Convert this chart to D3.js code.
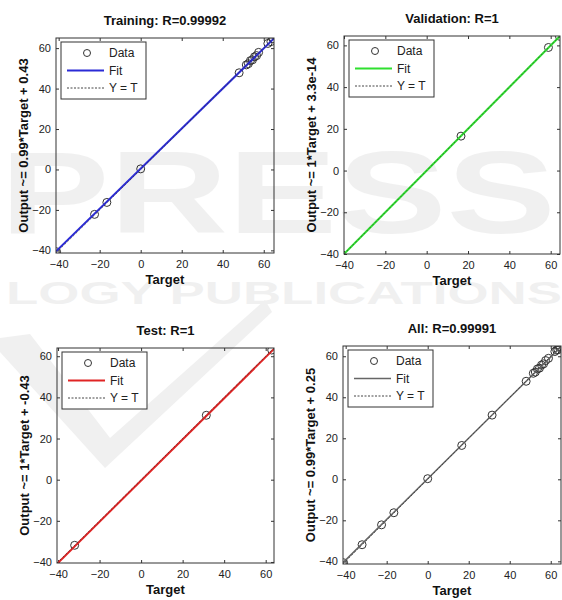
<!DOCTYPE html>
<html>
<head>
<meta charset="utf-8">
<script src="https://cdn.jsdelivr.net/npm/d3@7"></script>
<style>
  body { margin: 0; background: #fff; }
  svg { display: block; font-family: "Liberation Sans", Arial, sans-serif; }
</style>
</head>
<body>
<script>
// ---- data ----
var trainTargets = [-41, -22.5, -16.5, 0, 48, 51.5, 52.5, 53.5, 54.5, 55.5, 56.5, 57.5, 62, 63.5, 64.5];
var trainOutputs = [-40.7, -22.2, -16.3, 0.3, 47.8, 51.7, 52.3, 53.8, 54.2, 55.7, 56.3, 57.9, 62.3, 63.2, 64.6];
var valTargets = [16.6, 58.9, 64.2];
var valOutputs = [16.5, 59, 64.4];
var testTargets = [-32, 31.4, 62.9];
var testOutputs = [-31.9, 31.3, 63];

var titles = ['Training: R=0.99992', 'Validation: R=1', 'Test: R=1', 'All: R=0.99991'];
var yLabels = ['Output ~= 0.99*Target + 0.43', 'Output ~= 1*Target + 3.3e-14',
               'Output ~= 1*Target + -0.43', 'Output ~= 0.99*Target + 0.25'];
var fitSlopes = [0.99, 1, 1, 0.99];
var fitIntercepts = [0.43, 3.3e-14, -0.43, 0.25];
var fitColors = ['#2b2bd6', '#2fe02f', '#e02424', '#666666'];
var axisMin = [-41.3, -40, -40.5, -41.3];
var axisMax = [65, 64.5, 64, 65];
var tickValues = [-40, -20, 0, 20, 40, 60];
var legendLabels = ['Data', 'Fit', 'Y = T'];

var sets = [
  {t: trainTargets, y: trainOutputs},
  {t: valTargets, y: valOutputs},
  {t: testTargets, y: testOutputs},
  {t: trainTargets.concat(valTargets, testTargets), y: trainOutputs.concat(valOutputs, testOutputs)}
];

// panel frames: left, right, top, bottom
var frames = [
  [56, 274, 38, 253],
  [344, 560, 36, 254],
  [57, 274, 348, 563],
  [343, 561, 346, 564]
];

var W = 562, H = 600;
var svg = d3.select('body').append('svg').attr('width', W).attr('height', H);

// faint publisher watermark behind everything
var wm = svg.append('g').attr('fill', '#000').attr('opacity', 0.055);
wm.append('text').attr('x', 0).attr('y', 233)
  .attr('textLength', 556).attr('lengthAdjust', 'spacingAndGlyphs')
  .style('font-size', '116px').style('font-weight', 'bold').text('PRESS');
wm.append('text').attr('x', 6).attr('y', 304)
  .attr('textLength', 556).attr('lengthAdjust', 'spacingAndGlyphs')
  .style('font-size', '31px').style('font-weight', 'bold').text('LOGY PUBLICATIONS');
wm.append('path')
  .attr('d', 'M0,338 L30,334 L110,438 L265,300 L272,312 L105,468 L0,352 Z');

function drawPanel(i) {
  var f = frames[i];
  var x = d3.scaleLinear().domain([axisMin[i], axisMax[i]]).range([f[0], f[1]]);
  var y = d3.scaleLinear().domain([axisMin[i], axisMax[i]]).range([f[3], f[2]]);
  var g = svg.append('g');

  // axes
  var xAx = g.append('g').attr('transform', 'translate(0,' + f[3] + ')')
    .call(d3.axisBottom(x).tickValues(tickValues).tickSizeInner(-3).tickSizeOuter(0).tickPadding(7));
  var xTop = g.append('g').attr('transform', 'translate(0,' + f[2] + ')')
    .call(d3.axisTop(x).tickValues(tickValues).tickSizeInner(-3).tickSizeOuter(0).tickFormat(''));
  var yAx = g.append('g').attr('transform', 'translate(' + f[0] + ',0)')
    .call(d3.axisLeft(y).tickValues(tickValues).tickSizeInner(-3).tickSizeOuter(0).tickPadding(5));
  var yRight = g.append('g').attr('transform', 'translate(' + f[1] + ',0)')
    .call(d3.axisRight(y).tickValues(tickValues).tickSizeInner(-3).tickSizeOuter(0).tickFormat(''));
  [xAx, xTop, yAx, yRight].forEach(function(a) {
    a.select('.domain').remove();
    a.selectAll('line').attr('stroke', '#333');
    a.selectAll('text').attr('fill', '#222').style('font-size', '11px')
      .style('font-family', '"Liberation Sans", Arial, sans-serif');
  });

  var clipId = 'clip' + i;
  g.append('clipPath').attr('id', clipId).append('rect')
    .attr('x', f[0]).attr('y', f[2]).attr('width', f[1] - f[0]).attr('height', f[3] - f[2]);
  var plot = g.append('g').attr('clip-path', 'url(#' + clipId + ')');

  var d = sets[i];
  var pts = d.t.map(function(v, k) { return [v, d.y[k]]; });
  plot.selectAll('circle').data(pts).enter().append('circle')
    .attr('cx', function(p) { return x(p[0]); })
    .attr('cy', function(p) { return y(p[1]); })
    .attr('r', 4).attr('fill', 'none').attr('stroke', '#333').attr('stroke-width', 1);

  var dom = x.domain();
  plot.append('line')
    .attr('x1', x(dom[0])).attr('y1', y(fitSlopes[i] * dom[0] + fitIntercepts[i]))
    .attr('x2', x(dom[1])).attr('y2', y(fitSlopes[i] * dom[1] + fitIntercepts[i]))
    .attr('stroke', fitColors[i]).attr('stroke-width', i === 3 ? 1.5 : 2);
  plot.append('line')
    .attr('x1', x(dom[0])).attr('y1', y(dom[0]))
    .attr('x2', x(dom[1])).attr('y2', y(dom[1]))
    .attr('stroke', '#333').attr('stroke-width', 1).attr('stroke-dasharray', '2,2').attr('opacity', 0.6);

  // frame
  g.append('rect').attr('x', f[0]).attr('y', f[2])
    .attr('width', f[1] - f[0]).attr('height', f[3] - f[2])
    .attr('fill', 'none').attr('stroke', '#333').attr('stroke-width', 1);

  // titles
  var cx = (f[0] + f[1]) / 2, cy = (f[2] + f[3]) / 2;
  g.append('text').attr('x', cx).attr('y', f[2] - 13).attr('text-anchor', 'middle')
    .style('font-size', '13px').style('font-weight', 'bold').attr('fill', '#111').text(titles[i]);
  g.append('text').attr('x', cx).attr('y', f[3] + 31).attr('text-anchor', 'middle')
    .style('font-size', '13px').style('font-weight', 'bold').attr('fill', '#111').text('Target');
  g.append('text').attr('transform', 'translate(' + (f[0] - 33) + ',' + cy + ') rotate(-90)')
    .attr('text-anchor', 'middle').attr('dy', '0.35em')
    .style('font-size', '13px').style('font-weight', 'bold').attr('fill', '#111').text(yLabels[i]);

  // legend
  var lg = g.append('g').attr('transform', 'translate(' + (f[0] + 5) + ',' + (f[2] + 4) + ')');
  lg.append('rect').attr('width', 85).attr('height', 57)
    .attr('fill', '#fff').attr('stroke', '#333').attr('stroke-width', 1);
  var rows = lg.selectAll('g.row').data(legendLabels).enter().append('g')
    .attr('transform', function(_, k) { return 'translate(0,' + (11 + k * 17.5) + ')'; });
  rows.append('text').attr('x', 48).attr('y', 4).style('font-size', '12px').attr('fill', '#222')
    .text(function(s) { return s; });
  lg.append('circle').attr('cx', 26).attr('cy', 11).attr('r', 3.5)
    .attr('fill', 'none').attr('stroke', '#333');
  lg.append('line').attr('x1', 6).attr('x2', 43).attr('y1', 28.5).attr('y2', 28.5)
    .attr('stroke', fitColors[i]).attr('stroke-width', i === 3 ? 1.5 : 2);
  lg.append('line').attr('x1', 6).attr('x2', 43).attr('y1', 46).attr('y2', 46)
    .attr('stroke', '#444').attr('stroke-width', 1).attr('stroke-dasharray', '2,1.5');
}

for (var i = 0; i < 4; i++) drawPanel(i);
</script>
</body>
</html>
